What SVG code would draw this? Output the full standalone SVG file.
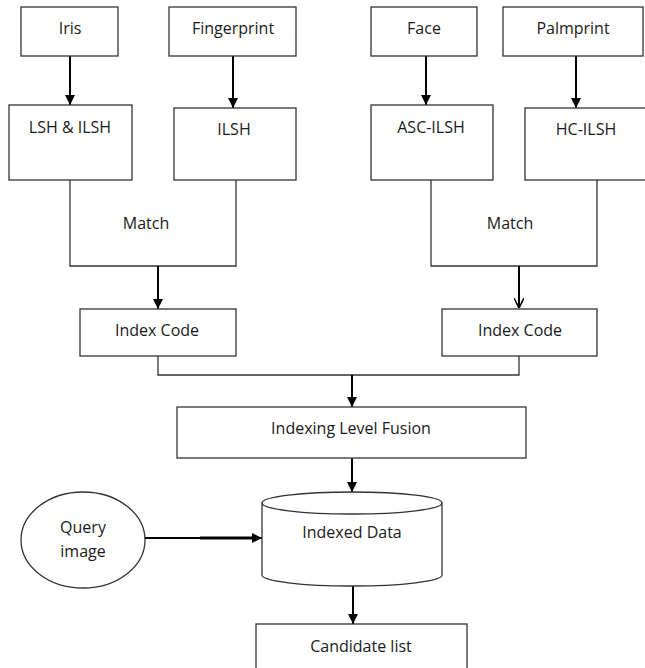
<svg xmlns="http://www.w3.org/2000/svg" width="645" height="668" viewBox="0 0 645 668">
<defs>
<style>
.box{fill:#fff;stroke:#333;stroke-width:1.3}
.ln{fill:none;stroke:#333;stroke-width:1.3}
.ar{fill:none;stroke:#000;stroke-width:2}
.t{font-family:"Open Sans","Liberation Sans",sans-serif;font-size:16px;fill:#1a1a1a;text-anchor:middle}
</style>
<marker id="tri" viewBox="0 0 10 10" refX="10" refY="5" markerWidth="5" markerHeight="5" markerUnits="strokeWidth" orient="auto">
<path d="M0,0 L10,5 L0,10 Z" fill="#000"/>
</marker>
<marker id="vee" viewBox="0 0 10 10" refX="10" refY="5" markerWidth="5" markerHeight="5" markerUnits="strokeWidth" orient="auto">
<path d="M0,0 L10,5 L0,10" fill="none" stroke="#000" stroke-width="1.6"/>
</marker>
</defs>
<rect width="645" height="668" fill="#fff"/>
<g id="connectors">
<path class="ln" d="M70,180 V266 H236 V180"/>
<path class="ln" d="M431,180 V266 H597 V180"/>
<path class="ln" d="M158,356 V375 H519 V356"/>
<line class="ar" x1="70" y1="56" x2="70" y2="105" marker-end="url(#tri)"/>
<line class="ar" x1="233" y1="56" x2="233" y2="108" marker-end="url(#tri)"/>
<line class="ar" x1="426" y1="56" x2="426" y2="105" marker-end="url(#tri)"/>
<line class="ar" x1="576" y1="56" x2="576" y2="108" marker-end="url(#tri)"/>
<line class="ar" x1="158" y1="266" x2="158" y2="309" marker-end="url(#tri)"/>
<line class="ar" x1="519" y1="266" x2="519" y2="308" marker-end="url(#vee)"/>
<line class="ar" x1="352" y1="375" x2="352" y2="407" marker-end="url(#tri)"/>
<line class="ar" x1="352" y1="458" x2="352" y2="492" marker-end="url(#tri)"/>
<line class="ar" x1="353" y1="586" x2="353" y2="624" marker-end="url(#tri)"/>
<line class="ar" x1="145" y1="538" x2="262" y2="538" marker-end="url(#tri)"/>
<line x1="200" y1="538" x2="255" y2="538" stroke="#000" stroke-width="3"/>
</g>
<g id="iris"><rect class="box" x="21" y="7" width="97" height="49"/><text class="t" x="70" y="34">Iris</text></g>
<g id="fingerprint"><rect class="box" x="169" y="7" width="127" height="49"/><text class="t" x="233" y="34">Fingerprint</text></g>
<g id="face"><rect class="box" x="371" y="7" width="106" height="49"/><text class="t" x="424" y="34">Face</text></g>
<g id="palmprint"><rect class="box" x="503" y="7" width="140" height="49"/><text class="t" x="573" y="34">Palmprint</text></g>
<g id="lsh"><rect class="box" x="9" y="105" width="123" height="75"/><text class="t" x="70" y="133">LSH &amp; ILSH</text></g>
<g id="ilsh"><rect class="box" x="174" y="108" width="122" height="72"/><text class="t" x="234" y="135">ILSH</text></g>
<g id="asc"><rect class="box" x="371" y="105" width="122" height="75"/><text class="t" x="431" y="133">ASC-ILSH</text></g>
<g id="hc"><rect class="box" x="525" y="108" width="130" height="72"/><text class="t" x="586" y="135">HC-ILSH</text></g>
<g id="match1"><text class="t" x="146" y="229">Match</text></g>
<g id="match2"><text class="t" x="510" y="229">Match</text></g>
<g id="index1"><rect class="box" x="80" y="309" width="156" height="47"/><text class="t" x="157" y="336">Index Code</text></g>
<g id="index2"><rect class="box" x="442" y="309" width="155" height="47"/><text class="t" x="520" y="336">Index Code</text></g>
<g id="fusion"><rect class="box" x="177" y="407" width="349" height="51"/><text class="t" x="351" y="434">Indexing Level Fusion</text></g>
<g id="indexed">
<path class="box" d="M262,503 V575 A90,11 0 0 0 442,575 V503"/>
<ellipse class="box" cx="352" cy="503" rx="90" ry="11"/>
<text class="t" x="352" y="538">Indexed Data</text>
</g>
<g id="query"><ellipse class="box" cx="83" cy="540" rx="62" ry="48"/><text class="t" x="83" y="533">Query</text><text class="t" x="83" y="557">image</text></g>
<g id="candidate"><rect class="box" x="256" y="624" width="211" height="50"/><text class="t" x="361" y="652">Candidate list</text></g>
</svg>
